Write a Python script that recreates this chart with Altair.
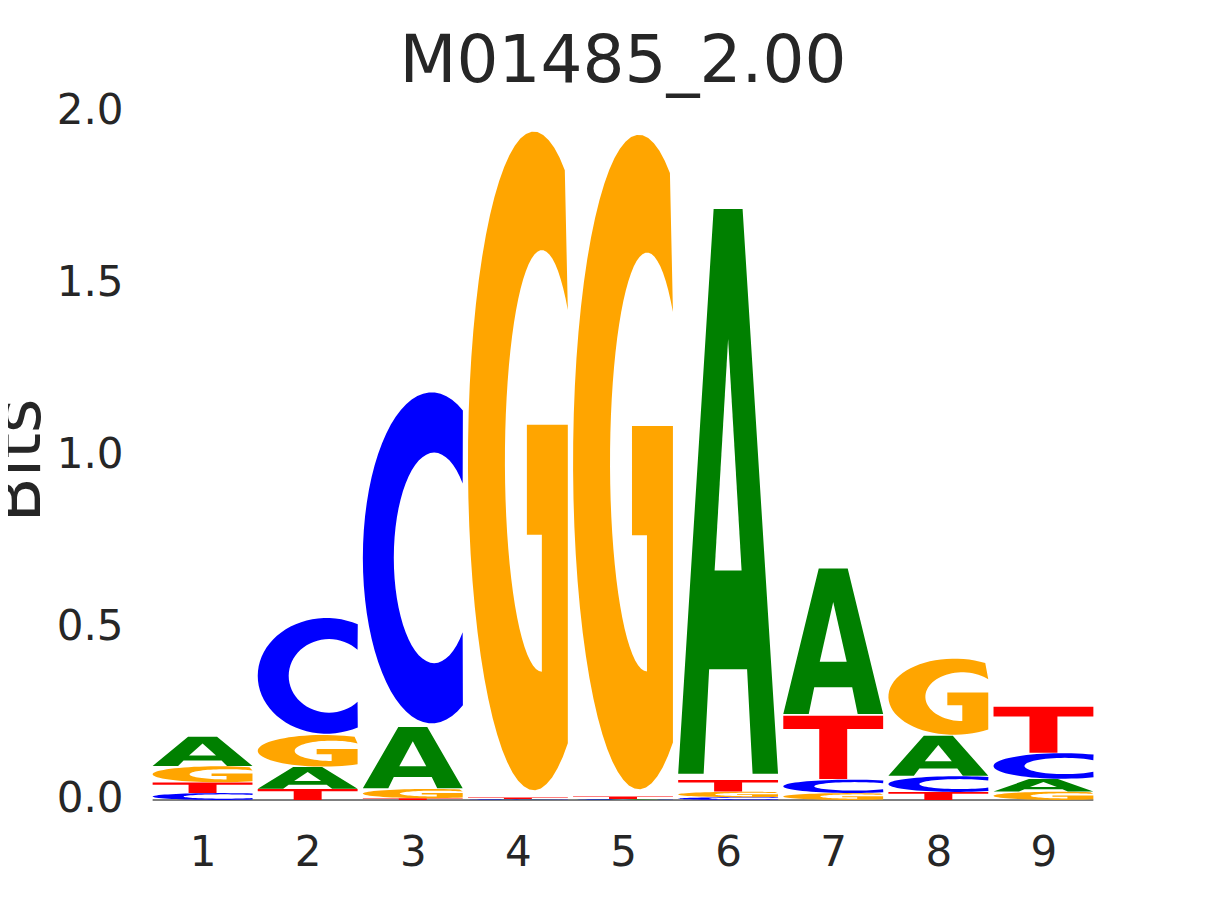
import math
import altair as alt
import pandas as pd

# ---------------- data ----------------
positions = [1, 2, 3, 4, 5, 6, 7, 8, 9]
bits_A = [0.086, 0.064, 0.180, 0.001, 0.0015, 1.660, 0.428, 0.118, 0.037]
bits_C = [0.020, 0.340, 0.973, 0.002, 0.0015, 0.008, 0.039, 0.046, 0.075]
bits_G = [0.047, 0.093, 0.027, 1.936, 1.924, 0.016, 0.020, 0.224, 0.024]
bits_T = [0.031, 0.032, 0.005, 0.004, 0.007, 0.034, 0.186, 0.023, 0.135]
letters = ["A", "C", "G", "T"]
letter_colors = ["#008000", "#0000ff", "#ffa500", "#ff0000"]
y_ticks = [0.0, 0.5, 1.0, 1.5, 2.0]
title_text = "M01485_2.00"
y_title = "Bits"

LETTER_WIDTH = 0.95
BOTTOM_PAD = 0.011


# ---------------- glyph templates (unit box) ----------------
def arc(cx, cy, rx, ry, a0, a1, n=48):
    pts = []
    for i in range(n + 1):
        t = math.radians(a0 + (a1 - a0) * i / n)
        pts.append((cx + rx * math.cos(t), cy + ry * math.sin(t)))
    return pts


def glyph_outline(letter):
    if letter == "T":
        return [(0, 1), (1, 1), (1, 0.79), (0.64, 0.79), (0.64, 0),
                (0.36, 0), (0.36, 0.79), (0, 0.79)]
    if letter == "A":
        return [(0, 0), (0.355, 1), (0.645, 1), (1, 0), (0.745, 0),
                (0.69, 0.185), (0.31, 0.185), (0.255, 0)]
    if letter == "C":
        outer = arc(0.689, 0.5, 0.689, 0.5, 63, 297)
        inner = arc(0.714, 0.5, 0.404, 0.318, 315, 45)
        return outer + inner
    # G
    outer = arc(0.66, 0.5, 0.66, 0.5, 62, 301)
    bar = [(1.0, 0.071), (1.0, 0.555), (0.59, 0.555), (0.59, 0.388),
           (0.74, 0.388), (0.74, 0.18)]
    inner = arc(0.741, 0.5, 0.371, 0.32, 270, 45.7)
    return outer + bar + inner


def glyph_hole(letter):
    if letter == "A":
        return [(0.365, 0.36), (0.635, 0.36), (0.5, 0.77)]
    return None


# ---------------- build polygons through data ----------------
table = {"A": bits_A, "C": bits_C, "G": bits_G, "T": bits_T}
rows, hole_rows = [], []
gid = 0
for i, p in enumerate(positions):
    col = sorted([(table[l][i], l) for l in letters])
    y0 = 0.0
    for h, l in col:
        x_left = p - LETTER_WIDTH / 2
        yb = y0 + BOTTOM_PAD * h
        hh = h - BOTTOM_PAD * h
        for k, (u, v) in enumerate(glyph_outline(l)):
            rows.append({"gid": gid, "k": k, "letter": l,
                         "x": x_left + u * LETTER_WIDTH, "y": yb + v * hh})
        hole = glyph_hole(l)
        if hole:
            for k, (u, v) in enumerate(hole):
                hole_rows.append({"gid": gid, "k": k,
                                  "x": x_left + u * LETTER_WIDTH, "y": yb + v * hh})
        gid += 1
        y0 += h

glyphs = pd.DataFrame(rows)
holes = pd.DataFrame(hole_rows)
base = pd.DataFrame({"x": [min(positions) - LETTER_WIDTH / 2],
                     "x2": [max(positions) + LETTER_WIDTH / 2],
                     "y": [0.0]})

FONT = "DejaVu Sans"
TXT = "#262626"

x_scale = alt.Scale(domain=[0.5, 9.5], nice=False, zero=False)
y_scale = alt.Scale(domain=[0, 2], nice=False)

x_axis = alt.Axis(values=positions, format="d", title=None, grid=False,
                  domain=False, ticks=False, tickSize=0, labelPadding=32,
                  labelFontSize=42, labelFont=FONT, labelColor=TXT)
y_axis = alt.Axis(values=y_ticks, format=".1f", title=y_title, grid=False,
                  domain=False, ticks=False, tickSize=0, labelPadding=27,
                  labelOffset=-2, labelFontSize=42, labelFont=FONT,
                  labelColor=TXT, titleFontSize=66, titleFont=FONT,
                  titleFontWeight="normal", titleColor=TXT, titleAngle=270,
                  titleAlign="center", titleBaseline="alphabetic",
                  titleX=-111, titleY=348)

baseline = alt.Chart(base).mark_rule(color="black", strokeWidth=1).encode(
    x=alt.X("x:Q", scale=x_scale, axis=x_axis),
    x2="x2:Q",
    y=alt.Y("y:Q", scale=y_scale, axis=y_axis),
)

letters_layer = alt.Chart(glyphs).mark_line(filled=True).encode(
    x=alt.X("x:Q", scale=x_scale, axis=x_axis),
    y=alt.Y("y:Q", scale=y_scale, axis=y_axis),
    detail="gid:N",
    order=alt.Order("k:Q"),
    color=alt.Color("letter:N", scale=alt.Scale(domain=letters, range=letter_colors),
                    legend=None),
)

holes_layer = alt.Chart(holes).mark_line(filled=True, color="white").encode(
    x=alt.X("x:Q", scale=x_scale, axis=x_axis),
    y=alt.Y("y:Q", scale=y_scale, axis=y_axis),
    detail="gid:N",
    order=alt.Order("k:Q"),
)

chart = alt.layer(baseline, letters_layer, holes_layer).properties(
    width=946,
    height=688,
    title=alt.Title(title_text, fontSize=66, font=FONT, fontWeight="normal",
                    color=TXT, anchor="middle", frame="group",
                    baseline="alphabetic", offset=-59),
    autosize=alt.AutoSizeParams(type="none"),
    padding={"left": 142, "top": 104, "right": 100, "bottom": 90},
).configure(
    background="white",
    view=alt.ViewConfig(stroke="transparent", strokeWidth=0),
)

chart.save("out.html", embed_options={"renderer": "svg", "actions": False})
